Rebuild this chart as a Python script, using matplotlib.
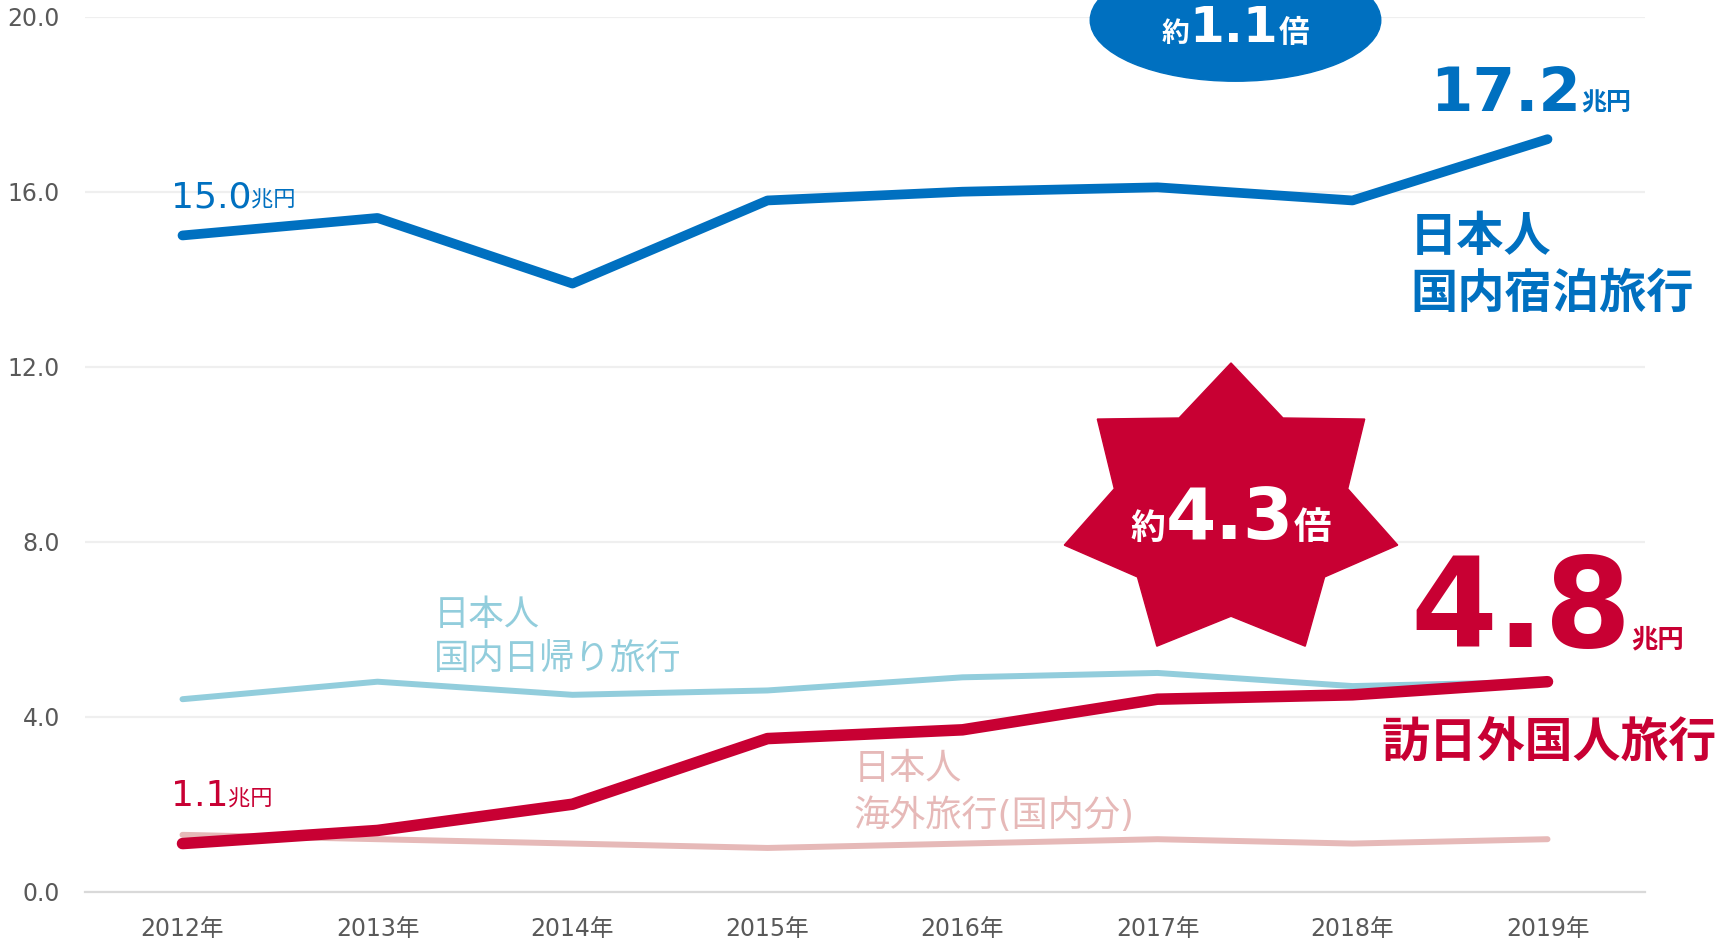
import numpy as np
import matplotlib
matplotlib.use("Agg")
import matplotlib.pyplot as plt
from matplotlib.patches import Ellipse, Polygon
from matplotlib.transforms import offset_copy

# Verdana-like digits, CJK falls back to Noto
plt.rcParams['font.family'] = ['DejaVu Sans', 'Noto Sans CJK JP']

# data (兆円)
years = ['2012年', '2013年', '2014年', '2015年', '2016年', '2017年', '2018年', '2019年']
domestic_stay = [15.0, 15.4, 13.9, 15.8, 16.0, 16.1, 15.8, 17.2]
domestic_day = [4.4, 4.8, 4.5, 4.6, 4.9, 5.0, 4.7, 4.8]
inbound = [1.1, 1.4, 2.0, 3.5, 3.7, 4.4, 4.5, 4.8]
outbound_dom = [1.3, 1.2, 1.1, 1.0, 1.1, 1.2, 1.1, 1.2]
y_ticks = [0, 4, 8, 12, 16, 20]

BLUE = '#0070C0'
RED = '#C80033'
LIGHT_BLUE = '#92CDDC'
PINK = '#E6B9B8'
GREY = '#595959'

fig = plt.figure(figsize=(17.34, 9.43), dpi=100)
ax = fig.add_axes([85 / 1734, 1 - 891.7 / 943, 1560 / 1734, 875 / 943])
x = np.arange(len(years))

ax.plot(x, outbound_dom, color=PINK, lw=4.3, solid_capstyle='round', zorder=2)
ax.plot(x, domestic_day, color=LIGHT_BLUE, lw=4.3, solid_capstyle='round', zorder=2)
ax.plot(x, inbound, color=RED, lw=8.3, solid_capstyle='round', zorder=3)
ax.plot(x, domestic_stay, color=BLUE, lw=7, solid_capstyle='round', zorder=3)

ax.set_xlim(-0.5, len(years) - 0.5)
ax.set_ylim(0, 20)
ax.set_xticks(x)
ax.set_xticklabels(years)
ax.set_yticks(y_ticks)
ax.set_yticklabels(['%.1f' % v for v in y_ticks])
ax.tick_params(length=0, labelsize=17, labelcolor=GREY)
ax.tick_params(axis='x', pad=18)
ax.tick_params(axis='y', pad=18)
ax.yaxis.grid(True, color='#EFEFEF', lw=1.6)
ax.set_axisbelow(True)
for s in ['top', 'right', 'left']:
    ax.spines[s].set_visible(False)
ax.spines['bottom'].set_color('#D9D9D9')
ax.spines['bottom'].set_linewidth(1.6)

renderer = fig.canvas.get_renderer()


def runs(xd, yd, parts, color, weight='normal', ha='left', zorder=6):
    """draw pieces of text of different sizes on one baseline"""
    texts = []
    for s, fs in parts:
        t = ax.text(xd, yd, s, fontsize=fs, color=color, fontweight=weight,
                    ha='left', va='baseline', clip_on=False, zorder=zorder)
        texts.append(t)
    widths = [t.get_window_extent(renderer).width for t in texts]
    dx = -sum(widths) / 2 if ha == 'center' else 0
    for t, w in zip(texts, widths):
        t.set_transform(offset_copy(ax.transData, fig=fig, x=dx, y=0, units='dots'))
        dx += w
    return texts


# value labels
runs(-0.06, 15.65, [('15.0', 26), ('兆円', 16)], BLUE)
runs(-0.06, 1.96, [('1.1', 26), ('兆円', 16)], RED)
runs(6.40, 17.85, [('17.2', 44), ('兆円', 18)], BLUE, 'bold')
runs(6.295, 5.59, [('4.8', 90), ('兆円', 19)], RED, 'bold')

# series names
ax.text(6.295, 14.94, '日本人', fontsize=34, color=BLUE, fontweight='bold', va='center', clip_on=False)
ax.text(6.295, 13.64, '国内宿泊旅行', fontsize=34, color=BLUE, fontweight='bold', va='center', clip_on=False)
ax.text(6.15, 3.375, '訪日外国人旅行', fontsize=34.5, color=RED, fontweight='bold', va='center', clip_on=False)
ax.text(1.287, 6.33, '日本人', fontsize=25.5, color=LIGHT_BLUE, va='center', clip_on=False)
ax.text(1.287, 5.29, '国内日帰り旅行', fontsize=25.5, color=LIGHT_BLUE, va='center', clip_on=False)
ax.text(3.443, 2.81, '日本人', fontsize=26, color=PINK, va='center', clip_on=False)
ax.text(3.443, 1.75, '海外旅行(国内分)', fontsize=26, color=PINK, va='center', clip_on=False)

# 約1.1倍 bubble
ax.add_patch(Ellipse((5.40, 19.92), 1.49, 2.79, color=BLUE, clip_on=False, zorder=5))
runs(5.40, 19.42, [('約', 20), ('1.1', 36), ('倍', 22)], 'white', 'bold', ha='center')

# 約4.3倍 star (7 points)
cx, cy = 5.377, 8.68
rx, ry = 171 / 195, 149 / 43.75
ang = np.pi / 2 + np.arange(14) * np.pi / 7
rad = np.where(np.arange(14) % 2 == 0, 1.0, 0.70)
star = np.column_stack([cx + rx * rad * np.cos(ang), cy + ry * rad * np.sin(ang)])
ax.add_patch(Polygon(star, closed=True, color=RED, clip_on=False, zorder=5))
runs(cx, 8.06, [('約', 25), ('4.3', 52), ('倍', 27)], 'white', 'bold', ha='center')

fig.savefig('out.png', dpi=100)
